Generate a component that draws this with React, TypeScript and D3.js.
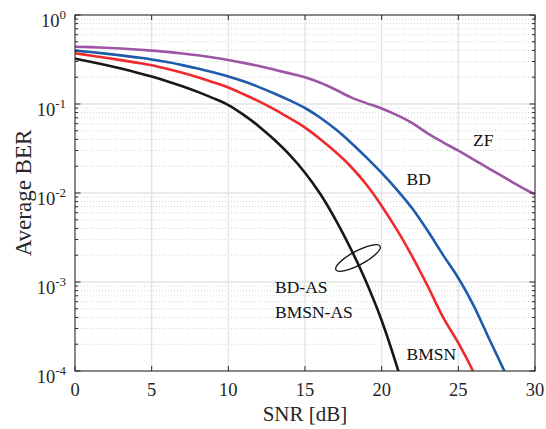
import React from "react";
import * as d3 from "d3";

const snr = [0,1,2,3,4,5,6,7,8,9,10,11,12,13,14,15,16,17,18,19,20,21,22,23,24,25,26,27,28,29,30];

// log10(BER) values
const zfLog = [-0.356,-0.361,-0.368,-0.377,-0.388,-0.40,-0.414,-0.432,-0.453,-0.478,-0.506,-0.538,-0.574,-0.614,-0.656,-0.70,-0.762,-0.84,-0.925,-0.99,-1.05,-1.125,-1.215,-1.33,-1.43,-1.525,-1.625,-1.725,-1.825,-1.925,-2.015];
const bdLog = [-0.40,-0.416,-0.434,-0.454,-0.476,-0.50,-0.529,-0.563,-0.601,-0.643,-0.69,-0.745,-0.81,-0.882,-0.96,-1.045,-1.155,-1.285,-1.435,-1.60,-1.775,-1.965,-2.175,-2.425,-2.695,-2.955,-3.265,-3.635,-4.0,-4.4];
const bmsnLog = [-0.43,-0.455,-0.48,-0.507,-0.535,-0.565,-0.605,-0.65,-0.70,-0.755,-0.815,-0.89,-0.97,-1.06,-1.16,-1.265,-1.395,-1.54,-1.705,-1.905,-2.145,-2.415,-2.715,-3.045,-3.395,-3.685,-4.015,-4.4];
const asLog = [-0.49,-0.525,-0.562,-0.602,-0.645,-0.692,-0.744,-0.801,-0.864,-0.934,-1.012,-1.122,-1.252,-1.402,-1.572,-1.772,-2.012,-2.302,-2.632,-3.002,-3.432,-3.952,-4.55];

const xTicks = [0,5,10,15,20,25,30];
const yExps = [0,-1,-2,-3,-4];

const series = [
  { name: "ZF", vals: zfLog, color: "#9d56a6" },
  { name: "BD", vals: bdLog, color: "#1f5bab" },
  { name: "BMSN", vals: bmsnLog, color: "#f02a2c" },
  { name: "AS", vals: asLog, color: "#171717" },
];

const labels = [
  { text: "ZF", x: 473, y: 146 },
  { text: "BD", x: 406.5, y: 185 },
  { text: "BMSN", x: 406.5, y: 360 },
  { text: "BD-AS", x: 275, y: 293 },
  { text: "BMSN-AS", x: 275, y: 318 },
];

export default function App() {
  const L = 75, R = 535, T = 15, B = 371;
  const x = d3.scaleLinear().domain([0, 30]).range([L, R]);
  const y = d3.scaleLog().domain([1e-4, 1]).range([B, T]);
  const font = "Liberation Serif, Times New Roman, serif";

  const minors: number[] = [];
  for (let e = -4; e < 0; e++) for (let m = 2; m <= 9; m++) minors.push(m * Math.pow(10, e));

  const line = d3
    .line<[number, number]>()
    .x((d) => x(d[0]))
    .y((d) => y(d[1]))
    .curve(d3.curveMonotoneX);

  return (
    <svg width={546} height={429} style={{ position: "absolute", left: 0, top: 0, background: "#fff" }}>
      <defs>
        <clipPath id="plot">
          <rect x={L} y={T} width={R - L} height={B - T} />
        </clipPath>
      </defs>
      <rect x={0} y={0} width={546} height={429} fill="#fff" />
      {minors.map((v, i) => (
        <line key={"mg" + i} x1={L} x2={R} y1={y(v)} y2={y(v)} stroke="#c8c8c8" strokeWidth={0.8} strokeDasharray="1,2" />
      ))}
      {yExps.map((e) => (
        <line key={"yg" + e} x1={L} x2={R} y1={y(Math.pow(10, e))} y2={y(Math.pow(10, e))} stroke="#e3e3e3" strokeWidth={1.3} />
      ))}
      {xTicks.map((t) => (
        <line key={"xg" + t} x1={x(t)} x2={x(t)} y1={T} y2={B} stroke="#e3e3e3" strokeWidth={1.3} />
      ))}
      <g clipPath="url(#plot)">
        {series.map((s) => (
          <path
            key={s.name}
            d={line(s.vals.map((v, i) => [snr[i], Math.pow(10, v)] as [number, number])) || ""}
            fill="none"
            stroke={s.color}
            strokeWidth={2.6}
            strokeLinejoin="round"
          />
        ))}
      </g>
      <rect x={L} y={T} width={R - L} height={B - T} fill="none" stroke="#262626" strokeWidth={1} />
      {xTicks.map((t) => (
        <g key={"xt" + t}>
          <line x1={x(t)} x2={x(t)} y1={B} y2={B - 5} stroke="#262626" />
          <line x1={x(t)} x2={x(t)} y1={T} y2={T + 5} stroke="#262626" />
          <text x={x(t)} y={396} textAnchor="middle" fontFamily={font} fontSize={18.5} fill="#262626">
            {t}
          </text>
        </g>
      ))}
      {minors.map((v, i) => (
        <g key={"mt" + i}>
          <line x1={L} x2={L + 3} y1={y(v)} y2={y(v)} stroke="#262626" />
          <line x1={R} x2={R - 3} y1={y(v)} y2={y(v)} stroke="#262626" />
        </g>
      ))}
      {yExps.map((e) => {
        const yy = y(Math.pow(10, e));
        return (
          <g key={"yt" + e}>
            <line x1={L} x2={L + 5.5} y1={yy} y2={yy} stroke="#262626" />
            <line x1={R} x2={R - 5.5} y1={yy} y2={yy} stroke="#262626" />
            <text x={66} y={yy + 12} textAnchor="end" fontFamily={font} fontSize={18.5} fill="#262626">
              10
              <tspan dy={-8} fontSize={13}>
                {String(e)}
              </tspan>
            </text>
          </g>
        );
      })}
      <text x={305} y={421} textAnchor="middle" fontFamily={font} fontSize={21} fill="#262626">
        SNR [dB]
      </text>
      <text transform="translate(31,193) rotate(-90)" textAnchor="middle" fontFamily={font} fontSize={23} fill="#262626">
        Average BER
      </text>
      {labels.map((l) => (
        <text key={l.text} x={l.x} y={l.y} fontFamily={font} fontSize={17.5} fill="#111">
          {l.text}
        </text>
      ))}
      <ellipse cx={358} cy={258} rx={25} ry={7} fill="none" stroke="#111" strokeWidth={1.3} transform="rotate(-28 358 258)" />
    </svg>
  );
}
